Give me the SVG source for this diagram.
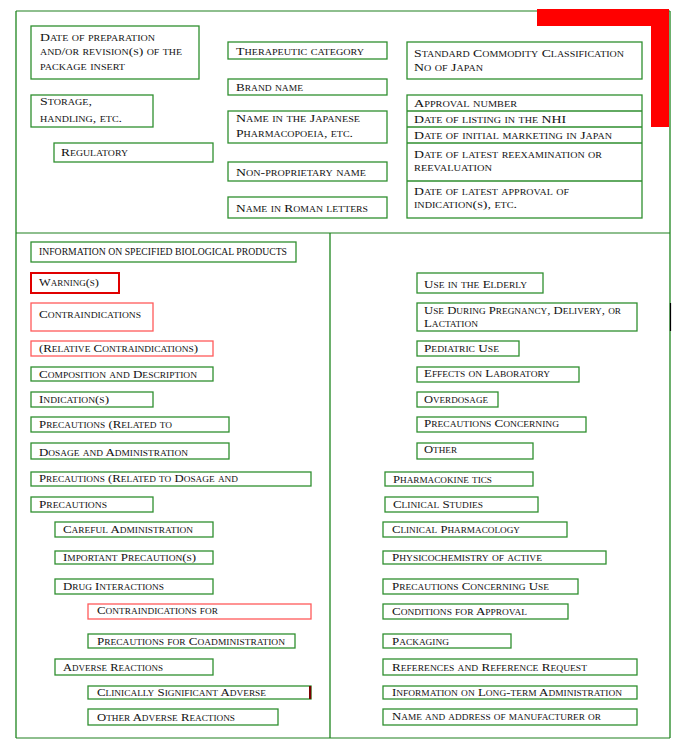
<svg xmlns="http://www.w3.org/2000/svg" width="689" height="754" viewBox="0 0 689 754">
<style>
.b{fill:#fff;stroke:#2f8f2f;stroke-width:1.3}
.rl{fill:#fff;stroke:#ff5a5a;stroke-width:1.3}
.rw{fill:#fff;stroke:#e00000;stroke-width:2}
.f{fill:none;stroke:#1f861f;stroke-width:1.3}
.fh{fill:none;stroke:#6aaa6a;stroke-width:1.4}
text{font-family:"Liberation Serif","DejaVu Serif",serif;font-size:11px;font-variant:small-caps;fill:#111}
text.u{font-variant:normal;font-size:10.5px}
</style>
<rect width="689" height="754" fill="#fff"/>
<g id="frame">
<path class="fh" d="M16 11H670M16 233H670M16 738H670"/>
<path class="f" d="M16 11V738M670 11V738M330 233V738"/>
<path d="M537 9H669V127H651V26H537Z" fill="#ff0000"/>
<path d="M670.5 303V331" stroke="#000" stroke-width="1.2"/>
</g>
<g id="n-date-prep"><rect class="b" x="31" y="26" width="168" height="53"/>
<text x="40" y="41" textLength="115" lengthAdjust="spacingAndGlyphs">Date of preparation</text>
<text x="40" y="55" textLength="142" lengthAdjust="spacingAndGlyphs">and/or revision(s) of the</text>
<text x="40" y="70" textLength="85" lengthAdjust="spacingAndGlyphs">package insert</text></g>
<g id="n-storage"><rect class="b" x="31" y="95" width="122" height="32"/>
<text x="40" y="105" textLength="52" lengthAdjust="spacingAndGlyphs">Storage,</text>
<text x="40" y="122" textLength="82" lengthAdjust="spacingAndGlyphs">handling, etc.</text></g>
<g id="n-regulatory"><rect class="b" x="54" y="143" width="159" height="19"/>
<text x="61" y="156" textLength="67" lengthAdjust="spacingAndGlyphs">Regulatory</text></g>
<g id="n-therapeutic"><rect class="b" x="228" y="42" width="159" height="17"/>
<text x="236" y="55" textLength="128" lengthAdjust="spacingAndGlyphs">Therapeutic category</text></g>
<g id="n-brand"><rect class="b" x="228" y="79" width="159" height="16"/>
<text x="236" y="91" textLength="67" lengthAdjust="spacingAndGlyphs">Brand name</text></g>
<g id="n-jp"><rect class="b" x="228" y="111" width="159" height="32"/>
<text x="236" y="122" textLength="124" lengthAdjust="spacingAndGlyphs">Name in the Japanese</text>
<text x="236" y="137" textLength="117" lengthAdjust="spacingAndGlyphs">Pharmacopoeia, etc.</text></g>
<g id="n-nonprop"><rect class="b" x="228" y="162" width="159" height="19"/>
<text x="236" y="176" textLength="130" lengthAdjust="spacingAndGlyphs">Non-proprietary name</text></g>
<g id="n-roman"><rect class="b" x="228" y="197" width="159" height="21"/>
<text x="236" y="212" textLength="132" lengthAdjust="spacingAndGlyphs">Name in Roman letters</text></g>
<g id="n-standard"><rect class="b" x="407" y="42" width="235" height="37"/>
<text x="414" y="57" textLength="210" lengthAdjust="spacingAndGlyphs">Standard Commodity Classification</text>
<text x="414" y="71" textLength="69" lengthAdjust="spacingAndGlyphs">No of Japan</text></g>
<g id="n-approval"><rect class="b" x="407" y="95" width="235" height="123"/>
<path class="b" d="M407 111H642M407 127H642M407 143H642M407 181H642"/>
<text x="414" y="107" textLength="103" lengthAdjust="spacingAndGlyphs">Approval number</text>
<text x="414" y="123" textLength="152" lengthAdjust="spacingAndGlyphs">Date of listing in the NHI</text>
<text x="414" y="139" textLength="198" lengthAdjust="spacingAndGlyphs">Date of initial marketing in Japan</text>
<text x="414" y="158" textLength="188" lengthAdjust="spacingAndGlyphs">Date of latest reexamination or</text>
<text x="414" y="171" textLength="78" lengthAdjust="spacingAndGlyphs">reevaluation</text>
<text x="414" y="195" textLength="155" lengthAdjust="spacingAndGlyphs">Date of latest approval of</text>
<text x="414" y="208" textLength="103" lengthAdjust="spacingAndGlyphs">indication(s), etc.</text></g>
<g id="n-info-bio"><rect class="b" x="31" y="242" width="265" height="20"/>
<text class="u" x="39" y="255" textLength="248" lengthAdjust="spacingAndGlyphs">INFORMATION ON SPECIFIED BIOLOGICAL PRODUCTS</text></g>
<g id="n-warning"><rect class="rw" x="31" y="273" width="88" height="20"/>
<text x="39" y="286" textLength="60" lengthAdjust="spacingAndGlyphs">Warning(s)</text></g>
<g id="n-contra"><rect class="rl" x="31" y="303" width="122" height="28"/>
<text x="39" y="318" textLength="102" lengthAdjust="spacingAndGlyphs">Contraindications</text></g>
<g id="n-relcontra"><rect class="rl" x="31" y="341" width="182" height="15"/>
<text x="39" y="352" textLength="159" lengthAdjust="spacingAndGlyphs">(Relative Contraindications)</text></g>
<g id="n-composition"><rect class="b" x="31" y="367" width="182" height="14"/>
<text x="39" y="378" textLength="158" lengthAdjust="spacingAndGlyphs">Composition and Description</text></g>
<g id="n-indication"><rect class="b" x="31" y="392" width="122" height="15"/>
<text x="39" y="403" textLength="70" lengthAdjust="spacingAndGlyphs">Indication(s)</text></g>
<g id="n-prec-rel"><rect class="b" x="31" y="417" width="198" height="15"/>
<text x="39" y="428" textLength="133" lengthAdjust="spacingAndGlyphs">Precautions (Related to</text></g>
<g id="n-dosage"><rect class="b" x="31" y="443" width="198" height="16"/>
<text x="39" y="456" textLength="149" lengthAdjust="spacingAndGlyphs">Dosage and Administration</text></g>
<g id="n-prec-dos"><rect class="b" x="31" y="472" width="280" height="14"/>
<text x="39" y="482" textLength="199" lengthAdjust="spacingAndGlyphs">Precautions (Related to Dosage and</text></g>
<g id="n-precautions"><rect class="b" x="31" y="497" width="122" height="15"/>
<text x="39" y="508" textLength="68" lengthAdjust="spacingAndGlyphs">Precautions</text></g>
<g id="n-careful"><rect class="b" x="55" y="522" width="158" height="15"/>
<text x="63" y="533" textLength="130" lengthAdjust="spacingAndGlyphs">Careful Administration</text></g>
<g id="n-important"><rect class="b" x="55" y="551" width="158" height="13"/>
<text x="63" y="561" textLength="133" lengthAdjust="spacingAndGlyphs">Important Precaution(s)</text></g>
<g id="n-drug"><rect class="b" x="55" y="579" width="158" height="15"/>
<text x="63" y="590" textLength="101" lengthAdjust="spacingAndGlyphs">Drug Interactions</text></g>
<g id="n-contra-for"><rect class="rl" x="88" y="604" width="223" height="15"/>
<text x="97" y="614" textLength="121" lengthAdjust="spacingAndGlyphs">Contraindications for</text></g>
<g id="n-prec-coadmin"><rect class="b" x="88" y="634" width="207" height="14"/>
<text x="97" y="645" textLength="188" lengthAdjust="spacingAndGlyphs">Precautions for  Coadministration</text></g>
<g id="n-adverse"><rect class="b" x="55" y="659" width="158" height="16"/>
<text x="63" y="671" textLength="100" lengthAdjust="spacingAndGlyphs">Adverse Reactions</text></g>
<g id="n-clin-sig"><rect class="b" x="88" y="686" width="223" height="13"/>
<rect x="309" y="686" width="2.2" height="13" fill="#7a0000"/>
<text x="97" y="696" textLength="169" lengthAdjust="spacingAndGlyphs">Clinically Significant Adverse</text></g>
<g id="n-other-adv"><rect class="b" x="88" y="709" width="190" height="16"/>
<text x="97" y="721" textLength="138" lengthAdjust="spacingAndGlyphs">Other Adverse Reactions</text></g>
<g id="n-elderly"><rect class="b" x="417" y="273" width="126" height="20"/>
<text x="424" y="288" textLength="103" lengthAdjust="spacingAndGlyphs">Use in the Elderly</text></g>
<g id="n-pregnancy"><rect class="b" x="417" y="303" width="220" height="28"/>
<text x="424" y="314" textLength="197" lengthAdjust="spacingAndGlyphs">Use During Pregnancy, Delivery, or</text>
<text x="424" y="327" textLength="54" lengthAdjust="spacingAndGlyphs">Lactation</text></g>
<g id="n-pediatric"><rect class="b" x="417" y="341" width="102" height="15"/>
<text x="424" y="352" textLength="75" lengthAdjust="spacingAndGlyphs">Pediatric Use</text></g>
<g id="n-lab"><rect class="b" x="417" y="367" width="162" height="15"/>
<text x="424" y="377" textLength="126" lengthAdjust="spacingAndGlyphs">Effects on Laboratory</text></g>
<g id="n-overdosage"><rect class="b" x="417" y="392" width="81" height="15"/>
<text x="424" y="403" textLength="64" lengthAdjust="spacingAndGlyphs">Overdosage</text></g>
<g id="n-prec-conc"><rect class="b" x="417" y="417" width="169" height="15"/>
<text x="424" y="427" textLength="135" lengthAdjust="spacingAndGlyphs">Precautions Concerning</text></g>
<g id="n-other"><rect class="b" x="417" y="443" width="116" height="16"/>
<text x="424" y="453" textLength="33" lengthAdjust="spacingAndGlyphs">Other</text></g>
<g id="n-pk"><rect class="b" x="385" y="472" width="148" height="14"/>
<text x="393" y="483" textLength="99" lengthAdjust="spacingAndGlyphs">Pharmacokine tics</text></g>
<g id="n-clin-stud"><rect class="b" x="385" y="497" width="153" height="15"/>
<text x="393" y="508" textLength="90" lengthAdjust="spacingAndGlyphs">Clinical  Studies</text></g>
<g id="n-clin-pharm"><rect class="b" x="383" y="522" width="184" height="15"/>
<text x="392" y="533" textLength="128" lengthAdjust="spacingAndGlyphs">Clinical  Pharmacology</text></g>
<g id="n-physico"><rect class="b" x="383" y="551" width="223" height="13"/>
<text x="392" y="561" textLength="150" lengthAdjust="spacingAndGlyphs">Physicochemistry of active</text></g>
<g id="n-prec-use"><rect class="b" x="383" y="579" width="195" height="15"/>
<text x="392" y="590" textLength="157" lengthAdjust="spacingAndGlyphs">Precautions Concerning Use</text></g>
<g id="n-conditions"><rect class="b" x="383" y="604" width="185" height="15"/>
<text x="392" y="615" textLength="135" lengthAdjust="spacingAndGlyphs">Conditions for Approval</text></g>
<g id="n-packaging"><rect class="b" x="383" y="634" width="128" height="14"/>
<text x="392" y="645" textLength="57" lengthAdjust="spacingAndGlyphs">Packaging</text></g>
<g id="n-references"><rect class="b" x="383" y="659" width="254" height="16"/>
<text x="392" y="671" textLength="195" lengthAdjust="spacingAndGlyphs">References and Reference Request</text></g>
<g id="n-longterm"><rect class="b" x="383" y="686" width="254" height="13"/>
<text x="392" y="696" textLength="230" lengthAdjust="spacingAndGlyphs">Information on Long-term Administration</text></g>
<g id="n-manufacturer"><rect class="b" x="383" y="709" width="254" height="16"/>
<text x="392" y="720" textLength="209" lengthAdjust="spacingAndGlyphs">Name and address of manufacturer or</text></g>
<g id="connectors"></g>
</svg>
